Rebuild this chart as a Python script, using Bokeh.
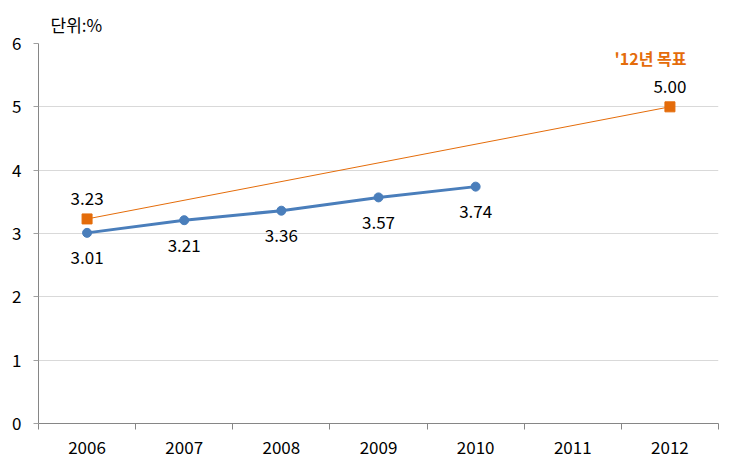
from bokeh.plotting import figure
from bokeh.models import ColumnDataSource, LabelSet, Label, FixedTicker, Range1d
from bokeh.core.properties import value
from bokeh.embed import file_html
from bokeh.resources import INLINE

years = ["2006", "2007", "2008", "2009", "2010", "2011", "2012"]
actual_years = ["2006", "2007", "2008", "2009", "2010"]
actual_vals = [3.01, 3.21, 3.36, 3.57, 3.74]
target_years = ["2006", "2012"]
target_vals = [3.23, 5.00]
y_ticks = [0, 1, 2, 3, 4, 5, 6]
unit_text = "단위:%"
target_title = "'12년 목표"

FONT = "Noto Sans CJK KR"
BLUE = "#4A7EBB"
ORANGE = "#E46C0A"

pos = {y: i + 0.5 for i, y in enumerate(years)}

p = figure(width=725, height=462, output_backend="svg", toolbar_location=None,
           x_range=Range1d(0, len(years)), y_range=Range1d(0, 6),
           min_border_left=38, min_border_right=7, min_border_top=43, min_border_bottom=39)
p.outline_line_color = None
p.title.text = unit_text
p.title.align = "left"
p.title.offset = 12
p.title.text_font = FONT
p.title.text_font_size = "17px"
p.title.text_font_style = "normal"
p.title.text_color = "#000000"
p.title.standoff = 13

p.xgrid.visible = False
p.ygrid.grid_line_color = "#D9D9D9"
p.ygrid.ticker = FixedTicker(ticks=y_ticks)

p.xaxis.ticker = FixedTicker(ticks=[pos[y] for y in years], minor_ticks=list(range(len(years) + 1)))
p.xaxis.major_label_overrides = {pos[y]: y for y in years}
p.xaxis.major_tick_out = 0
p.xaxis.major_tick_in = 0
p.xaxis.minor_tick_out = 6
p.xaxis.minor_tick_in = 0
p.xaxis.minor_tick_line_color = "#868686"
p.yaxis.ticker = FixedTicker(ticks=y_ticks)
p.yaxis.major_tick_out = 5
p.yaxis.major_tick_in = 0
p.yaxis.minor_tick_line_color = None
for ax in (p.xaxis, p.yaxis):
    ax.axis_line_color = "#868686"
    ax.major_tick_line_color = "#A0A0A0"
    ax.major_label_text_font = FONT
    ax.major_label_text_font_size = "17px"
    ax.major_label_text_color = "#000000"
p.xaxis.major_label_standoff = 11
p.yaxis.major_label_standoff = 12

src_a = ColumnDataSource(dict(x=[pos[y] for y in actual_years], y=actual_vals,
                              t=[f"{v:.2f}" for v in actual_vals]))
src_t = ColumnDataSource(dict(x=[pos[y] for y in target_years], y=target_vals,
                              t=[f"{v:.2f}" for v in target_vals]))

p.line("x", "y", source=src_t, line_color=ORANGE, line_width=1)
p.scatter("x", "y", source=src_t, marker="square", size=10, fill_color=ORANGE, line_color=ORANGE)
p.line("x", "y", source=src_a, line_color=BLUE, line_width=3)
p.scatter("x", "y", source=src_a, marker="circle", size=9, fill_color=BLUE, line_color=BLUE)

p.add_layout(LabelSet(x="x", y="y", text="t", source=src_a, y_offset=-25,
                      text_align="center", text_baseline="middle",
                      text_font=value(FONT), text_font_size=value("17px"), text_color="#000000"))
p.add_layout(LabelSet(x="x", y="y", text="t", source=src_t, y_offset=20,
                      text_align="center", text_baseline="middle",
                      text_font=value(FONT), text_font_size=value("17px"), text_color="#000000"))
p.add_layout(Label(x=pos["2012"] - 0.2, y=target_vals[1], y_offset=49, text=target_title,
                   text_align="center", text_baseline="middle", text_font=FONT,
                   text_font_size="16px", text_font_style="bold", text_color=ORANGE))

open("out.html", "w").write(file_html(p, INLINE))
